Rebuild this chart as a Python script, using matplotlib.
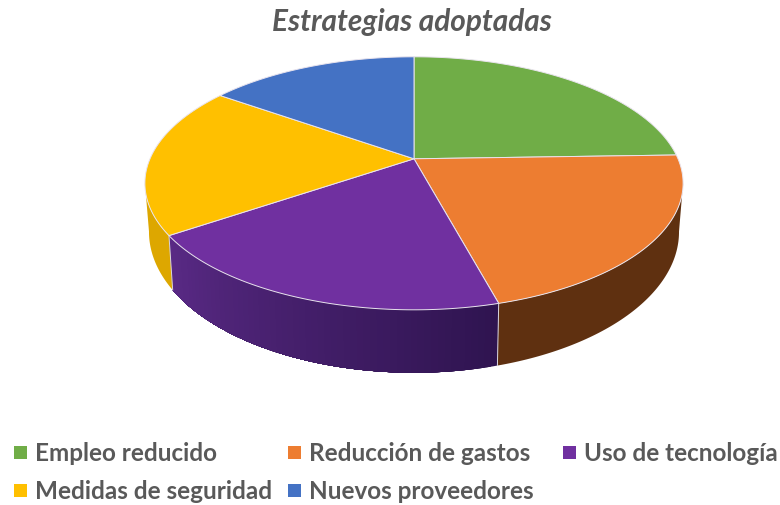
import numpy as np
import matplotlib
matplotlib.use("Agg")
import matplotlib.pyplot as plt
from matplotlib.patches import Polygon, Rectangle

title = "Estrategias adoptadas"
categories = ["Empleo reducido", "Reducción de gastos", "Uso de tecnología",
              "Medidas de seguridad", "Nuevos proveedores"]
values = [24.5, 21.3, 19.7, 19.3, 15.2]
top_colors = ["#70AD47", "#ED7D31", "#7030A0", "#FFC000", "#4472C4"]
side_colors = ["#4A7A2C", "#5F3010", "#5A2A86", "#DDA700", "#2F5597"]
side_dark = {2: "#2F1450"}

W, H = 780, 506
fig = plt.figure(figsize=(W / 100, H / 100), dpi=100)
ax = fig.add_axes([0, 0, 1, 1])
ax.set_xlim(0, W)
ax.set_ylim(H, 0)
ax.axis("off")

CX = 414
C = 0.1937
Y_SHIFT = 0.8


def rim(t, R, a, b):
    """Perspective projection of a circle point at angle t (radians)."""
    u = np.sin(t)
    d = 1 + C * u
    return CX + R * np.cos(t) / d, (a * u + b) / d + Y_SHIFT


def upper(t):
    return rim(t, 264, -90.96, 159)


def lower(t):
    return rim(t, 260, -96, 204.7)


fractions = np.array(values) / sum(values)
edges = np.radians(90 - 360 * np.concatenate([[0], np.cumsum(fractions)]))


def mix(c1, c2, f):
    a, b = np.array(matplotlib.colors.to_rgb(c1)), np.array(matplotlib.colors.to_rgb(c2))
    return tuple(a + (b - a) * f)


def band(s, e, col):
    ts = np.linspace(s, e, 80)
    ux, uy = upper(ts)
    lx, ly = lower(ts)
    pts = list(zip(ux, uy)) + list(zip(lx[::-1], ly[::-1]))
    ax.add_patch(Polygon(pts, closed=True, facecolor=col, edgecolor="none", zorder=2))


# side wall: each gradient step overdraws the rest of the slice, so no seams show
vis_a, vis_b = np.radians(-11), np.radians(-169)
for i in range(len(values)):
    t0, t1 = edges[i], edges[i + 1]
    for k in range(-6, 1):
        t0k, t1k = t0 + 2 * np.pi * k, t1 + 2 * np.pi * k
        s, e = min(t0k, vis_a), max(t1k, vis_b)
        if s <= e:
            continue
        if i in side_dark:
            steps = np.linspace(s, e, 60)[:-1]
            for st in steps:
                f = (t0k - st) / (t0k - t1k)
                band(st, e, mix(side_dark[i], side_colors[i], f))
        else:
            band(s, e, side_colors[i])

# seams on the side wall
for t in edges:
    if vis_b < ((t + np.pi) % (2 * np.pi)) - np.pi < vis_a:
        xa, ya = upper(t)
        xb, yb = lower(t)
        ax.plot([xa, xb], [ya, yb], color="#D9D5DE", lw=0.7, zorder=3)

# top face
apex = (CX, 159 + Y_SHIFT)
for i in range(len(values)):
    ts = np.linspace(edges[i], edges[i + 1], 200)
    xs, ys = upper(ts)
    pts = [apex] + list(zip(xs, ys))
    ax.add_patch(Polygon(pts, closed=True, facecolor=top_colors[i],
                         edgecolor="#E9E4EE", linewidth=0.7, zorder=4))

# text
ax.text(412, 22, title, ha="center", va="center", fontsize=21.4, color="#595959",
        family="Lato", style="italic", weight="bold")

legend_x = [14, 288, 563, 14, 288]
legend_y = [453, 453, 453, 491, 491]
for name, col, x, y in zip(categories, top_colors, legend_x, legend_y):
    ax.add_patch(Rectangle((x, y - 6.5), 13, 13, facecolor=col, edgecolor="none"))
    ax.text(x + 21, y + 1, name, ha="left", va="center", fontsize=17.5, color="#595959",
            family="Lato", weight="bold")

fig.savefig("out.png", dpi=100)
